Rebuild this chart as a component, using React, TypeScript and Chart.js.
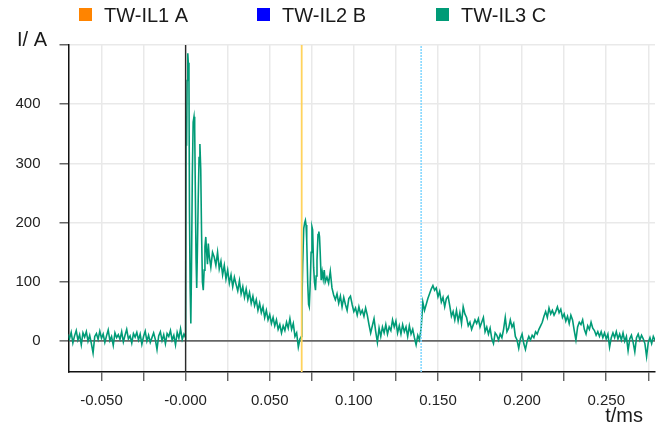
import React, { useEffect, useRef } from "react";
import { Chart, registerables } from "chart.js";

Chart.register(...registerables);

// ---------- data ----------
const SAMPLE_STEP = 0.001; // ms between samples of uniform segments

const PRE_START = -0.07;
const preA = [
  12, 4, 15, -3, 9, 18, 2, 11, -6, 14,
  7, 16, 0, 10, -4, -20, 8, 13, 3, 17,
  5, 12, -2, 9, 19, 1, 8, -7, 14, 6,
  11, 3, 16, -1, 10, 20, 4, 9, -3, 13,
  7, 15, 2, 12, -5, 8, 17, 0, 10, -2,
  6, 14, 3, -14, 9, 16, 1, 11, -4, 13,
  8, 18, 2, 10, -6, 15, 5, 21, 3, 12,
];

const burst1T = [
  0.0, 0.0003, 0.0006, 0.0009, 0.0013, 0.0016, 0.002, 0.0023, 0.0027, 0.0031,
  0.0035, 0.004, 0.0045, 0.005, 0.0054, 0.0058, 0.0062, 0.0066, 0.007, 0.0075,
  0.008, 0.0085, 0.009, 0.0095, 0.01, 0.0105, 0.011, 0.0115, 0.012, 0.0125,
  0.013, 0.0135, 0.014, 0.015, 0.016,
];
const burst1A = [
  6, 380, 330, 440, 486, 470, 440, 220, 90, 30,
  120, 280, 370, 379, 360, 250, 140, 90, 150, 240,
  310, 333, 290, 180, 100, 86, 120, 160, 176, 150,
  130, 165, 145, 125, 150,
];

const MID1_START = 0.017;
const mid1A = [
  142, 128, 150, 122, 135, 112, 128, 105, 120, 98,
  112, 92, 108, 96, 85, 102, 80, 92, 74, 88,
  70, 82, 64, 76, 60, 70, 52, 64, 48, 58,
  40, 52, 36, 45, 30, 40, 26, 36, 20, 28,
  14, 26, 18, 32, 22, 38, 20, 30, 8, 14,
  -10, 4,
];

const burst2T = [
  0.0688, 0.0691, 0.0696, 0.0702, 0.0708, 0.0712, 0.0716, 0.072, 0.0726, 0.0731,
  0.0735, 0.074, 0.0746, 0.0751, 0.0755, 0.0761, 0.0766, 0.0772, 0.0776, 0.0781,
  0.0787, 0.0792, 0.0796, 0.08, 0.0806, 0.0812, 0.0818, 0.0824, 0.083,
];
const burst2A = [
  8, 60, 130, 190, 200, 204, 196, 170, 97, 62,
  58, 92, 150, 193, 188, 125, 100, 86, 110, 137,
  180, 185, 176, 150, 103, 117, 105, 120, 100,
];

const TAIL_START = 0.084;
const tailA = [
  108, 98, 118, 90, 78, 70, 80, 64, 76, 58,
  74, 62, 52, 72, 76, 62, 50, 56, 44, 58,
  46, 52, 42, 56, 44, 28, 14, 26, 38, 16,
  -2, 22, 8, 24, 14, 28, 12, 24, 18, 36,
  24, 34, 14, 26, 12, 28, 16, 24, 8, 26,
  12, 20, 6, -6, 10, 2, 22, 66, 52, 62,
  72, 80, 88, 94, 86, 90, 75, 84, 66, 74,
  58, 72, 76, 60, 42, 50, 36, 52, 34, 48,
  30, 58, 46, 40, 26, 32, 20, 28, 36, 30,
  38, 24, 32, 40, 16, 24, 12, 22, 4, -4,
  14, 10, 2, 12, 6, 20, 40, 16, 22, 36,
  24, 30, 8, 2, -12, 4, 12, -4, -14, 0,
  8, 2, 10, 6, 16, 12, 20, 26, 32, 42,
  50, 40, 56, 46, 52, 44, 50, 58, 48, 54,
  40, 46, 34, 42, 30, 44, 36, 18, 2, 24,
  32, 28, 36, 20, 12, 26, 20, 32, 22, 18,
  10, 16, 8, 16, 6, 14, 4, 12, -10, 6,
  14, 6, 16, 4, 12, 2, 14, 0, 8, -16,
  4, 10, -2, -18, 6, 12, 2, 10, 4, -4,
  -26, -2, 6, -4, 8, 2,
];

// marker (cursor) positions in ms
const triggerTime = 0;
const cursorATime = 0.069;
const cursorBTime = 0.14;

const legendLabels = ["TW-IL1 A", "TW-IL2 B", "TW-IL3 C"];
const legendColors = ["#FF8400", "#0000FF", "#009B77"];

const X_MIN = -0.0696;
const X_MAX = 0.279;
const Y_MIN = -52;
const Y_MAX = 500;

const xTickValues = [-0.05, -0.025, 0, 0.025, 0.05, 0.075, 0.1, 0.125, 0.15, 0.175, 0.2, 0.225, 0.25, 0.275];
const xTickLabels = ["-0.050", "", "-0.000", "", "0.050", "", "0.100", "", "0.150", "", "0.200", "", "0.250", ""];
const yTickValues = [0, 100, 200, 300, 400, 500];
const yTickLabels = ["0", "100", "200", "300", "400", ""];

const yTitle = "I/ A";
const xTitle = "t/ms";

// ---------- helpers ----------
const FONT = "'Liberation Sans', Arial, sans-serif";

function uniform(start: number, arr: number[]) {
  return arr.map((a, i) => ({ x: +(start + i * SAMPLE_STEP).toFixed(5), y: a }));
}
function paired(ts: number[], as: number[]) {
  return ts.map((t, i) => ({ x: t, y: as[i] }));
}
function marker(t: number) {
  return [
    { x: t, y: Y_MIN },
    { x: t, y: Y_MAX },
  ];
}

const overlayPlugin = {
  id: "overlayTexts",
  afterDraw(chart: any) {
    const ctx = chart.ctx as CanvasRenderingContext2D;
    ctx.save();
    // legend
    const xs = [79, 257, 436];
    ctx.font = `20px ${FONT}`;
    ctx.textBaseline = "alphabetic";
    ctx.textAlign = "left";
    legendLabels.forEach((lab, i) => {
      ctx.fillStyle = legendColors[i];
      ctx.fillRect(xs[i], 8, 13, 13);
      ctx.fillStyle = "#1a1a1a";
      ctx.fillText(lab, xs[i] + 25, 22);
    });
    // axis titles
    ctx.fillStyle = "#1a1a1a";
    ctx.font = `20px ${FONT}`;
    ctx.fillText(yTitle, 17, 46);
    ctx.textAlign = "right";
    ctx.fillText(xTitle, 643, 422);
    ctx.restore();
  },
};

export default function App() {
  const ref = useRef<HTMLCanvasElement | null>(null);

  useEffect(() => {
    document.body.style.margin = "0";
    const canvas = ref.current;
    if (!canvas) return;

    const trace = [
      ...uniform(PRE_START, preA),
      ...paired(burst1T, burst1A),
      ...uniform(MID1_START, mid1A),
      ...paired(burst2T, burst2A),
      ...uniform(TAIL_START, tailA),
    ];

    const chart = new Chart(canvas, {
      type: "line",
      data: {
        datasets: [
          {
            label: "trigger",
            data: marker(triggerTime),
            borderColor: "#2a2a2a",
            borderWidth: 1.4,
            pointRadius: 0,
            order: 1,
          },
          {
            label: legendLabels[0],
            data: marker(cursorATime),
            borderColor: "#FFD35C",
            borderWidth: 1.8,
            pointRadius: 0,
            order: 1,
          },
          {
            label: legendLabels[1],
            data: marker(cursorBTime),
            borderColor: "#7FD6FF",
            borderWidth: 1.5,
            borderDash: [2, 1],
            pointRadius: 0,
            order: 1,
          },
          {
            label: legendLabels[2],
            data: trace,
            borderColor: legendColors[2],
            borderWidth: 1.6,
            pointRadius: 0,
            tension: 0,
            order: 2,
          },
        ],
      },
      options: {
        responsive: false,
        animation: false,
        devicePixelRatio: 1,
        layout: { padding: { left: 0, right: 9, top: 45, bottom: 0 } },
        plugins: {
          legend: { display: false },
          tooltip: { enabled: false },
          title: { display: false },
        },
        scales: {
          x: {
            type: "linear",
            min: X_MIN,
            max: X_MAX,
            afterBuildTicks: (scale: any) => {
              scale.ticks = xTickValues.map((v) => ({ value: v }));
            },
            afterFit: (scale: any) => {
              scale.height = 58;
            },
            ticks: {
              autoSkip: false,
              maxRotation: 0,
              padding: 11,
              color: "#222",
              font: { family: FONT, size: 15 },
              callback: (_v: any, i: number) => xTickLabels[i],
            },
            grid: {
              color: "#e9e9e9",
              lineWidth: 1.5,
              tickLength: 9,
              tickColor: "#555",
              tickWidth: 1.3,
            },
            border: { color: "#111", width: 1.5 },
          },
          y: {
            type: "linear",
            min: Y_MIN,
            max: Y_MAX,
            afterBuildTicks: (scale: any) => {
              scale.ticks = yTickValues.map((v) => ({ value: v }));
            },
            afterFit: (scale: any) => {
              scale.width = 68.5;
            },
            ticks: {
              autoSkip: false,
              padding: 19,
              color: "#222",
              font: { family: FONT, size: 15 },
              callback: (_v: any, i: number) => yTickLabels[i],
            },
            grid: {
              color: (c: any) => (c.tick && c.tick.value === 0 ? "#666" : "#e9e9e9"),
              lineWidth: (c: any) => (c.tick && c.tick.value === 0 ? 1.7 : 1.5),
              tickLength: 9,
              tickColor: "#666",
              tickWidth: 1.5,
            },
            border: { color: "#111", width: 1.5 },
          },
        },
      },
      plugins: [overlayPlugin],
    } as any);

    return () => chart.destroy();
  }, []);

  return (
    <div style={{ width: 664, height: 430, position: "relative" }}>
      <canvas ref={ref} width={664} height={430} />
    </div>
  );
}
